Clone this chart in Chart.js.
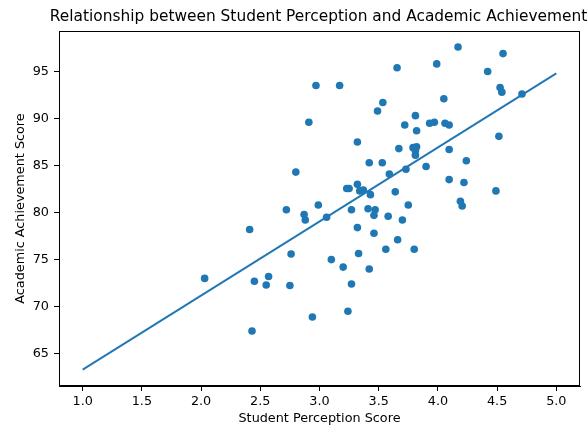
<!DOCTYPE html>
<html>
<head>
<meta charset="utf-8">
<script src="https://cdn.jsdelivr.net/npm/chart.js@4/dist/chart.umd.min.js"></script>
<style>
  body { margin: 0; background: #fff; }
  #wrap { width: 588px; height: 427px; }
</style>
</head>
<body>
<div id="wrap"><canvas id="myChart" width="588" height="427"></canvas></div>
<script>
// scatter points
var perception = [2.03, 2.41, 2.43, 2.45, 2.55, 2.57, 2.72, 2.75, 2.76, 2.80,
  2.87, 2.88, 2.91, 2.94, 2.97, 2.99, 3.06, 3.10, 3.17, 3.20,
  3.23, 3.24, 3.25, 3.27, 3.27, 3.32, 3.32, 3.32, 3.33, 3.34,
  3.37, 3.41, 3.42, 3.42, 3.43, 3.47, 3.46, 3.46, 3.49, 3.53,
  3.535, 3.56, 3.58, 3.59, 3.64, 3.655, 3.67, 3.66, 3.70, 3.72,
  3.73, 3.75, 3.79, 3.80, 3.81, 3.82, 3.82, 3.81, 3.81, 3.90,
  3.93, 3.97, 3.99, 4.05, 4.06, 4.095, 4.095, 4.095, 4.17, 4.19,
  4.205, 4.22, 4.24, 4.42, 4.49, 4.515, 4.525, 4.54, 4.55, 4.71];
var achievement = [73.0, 78.2, 67.4, 72.7, 72.3, 73.2, 80.3, 72.25, 75.6, 84.3,
  79.8, 79.2, 89.6, 68.9, 93.5, 80.8, 79.5, 75.0, 93.5, 74.2,
  82.55, 69.5, 82.55, 80.3, 72.4, 83.0, 87.5, 78.4, 75.65, 82.3,
  82.4, 80.4, 85.3, 74.0, 81.9, 80.3, 79.7, 77.8, 90.8, 85.3,
  91.7, 76.1, 79.6, 84.1, 82.2, 95.4, 86.8, 77.1, 79.2, 89.3,
  84.6, 80.8, 86.9, 76.1, 90.3, 88.7, 87.0, 86.6, 86.1, 84.9,
  89.5, 89.6, 95.8, 92.1, 89.5, 89.3, 86.7, 83.5, 97.6, 81.2,
  80.7, 83.2, 85.5, 95.0, 82.3, 88.1, 93.3, 92.8, 96.9, 92.6];

// fitted line end points
var fitX = [1.0, 5.0];
var fitY = [63.3, 94.8];

var xTicks = [1.0, 1.5, 2.0, 2.5, 3.0, 3.5, 4.0, 4.5, 5.0];
var yTicks = [65, 70, 75, 80, 85, 90, 95];

var blue = '#1f77b4';
var font = { family: 'DejaVu Sans', size: 12.8 };

var points = perception.map(function (v, i) { return { x: v, y: achievement[i] }; });
var line = fitX.map(function (v, i) { return { x: v, y: fitY[i] }; });

// draws the title and the box round the plot
var framePlugin = {
  id: 'frame',
  afterDraw: function (chart) {
    var c = chart.ctx, a = chart.chartArea;
    c.save();
    c.strokeStyle = '#000';
    c.lineWidth = 1;
    c.strokeRect(Math.round(a.left) + 0.5, Math.round(a.top) + 0.5,
      Math.round(a.right - a.left) - 1, Math.round(a.bottom - a.top) - 1);
    c.fillStyle = '#000';
    c.font = '15.4px "DejaVu Sans"';
    c.textAlign = 'center';
    c.textBaseline = 'middle';
    c.fillText('Relationship between Student Perception and Academic Achievement', (a.left + a.right) / 2 - 1, 17);
    c.restore();
  }
};

var ctx = document.getElementById('myChart').getContext('2d');
var myChart = new Chart(ctx, {
  type: 'scatter',
  data: {
    datasets: [{
      data: points,
      backgroundColor: blue,
      borderColor: blue,
      pointRadius: 3.8,
      pointHoverRadius: 3.8,
      borderWidth: 0
    }, {
      type: 'line',
      data: line,
      borderColor: blue,
      borderWidth: 1.9,
      pointRadius: 0,
      fill: false,
      tension: 0
    }]
  },
  options: {
    responsive: false,
    animation: false,
    layout: { padding: { top: 31, right: 8, left: 0, bottom: 0 } },
    plugins: {
      legend: { display: false },
      tooltip: { enabled: false }
    },
    scales: {
      x: {
        type: 'linear',
        min: 0.8,
        max: 5.2,
        afterBuildTicks: function (s) { s.ticks = xTicks.map(function (v) { return { value: v }; }); },
        afterFit: function (s) { s.height = 41; },
        grid: { drawOnChartArea: false, tickLength: 5, color: '#000' },
        border: { display: true, color: '#000' },
        ticks: {
          color: '#000', font: font, padding: 3, maxRotation: 0,
          callback: function (v) { return v.toFixed(1); }
        },
        title: { display: true, text: 'Student Perception Score', color: '#000', font: font, padding: { top: 0, bottom: 0.3 } }
      },
      y: {
        min: 61.56,
        max: 99.3,
        afterBuildTicks: function (s) { s.ticks = yTicks.map(function (v) { return { value: v }; }); },
        afterFit: function (s) { s.width = 59; },
        grid: { drawOnChartArea: false, tickLength: 5, color: '#000' },
        border: { display: true, color: '#000' },
        ticks: { color: '#000', font: font, padding: 5 },
        title: { display: true, text: 'Academic Achievement Score', color: '#000', font: font, padding: { top: 13.3, bottom: 0 } }
      }
    }
  },
  plugins: [framePlugin]
});
</script>
</body>
</html>
